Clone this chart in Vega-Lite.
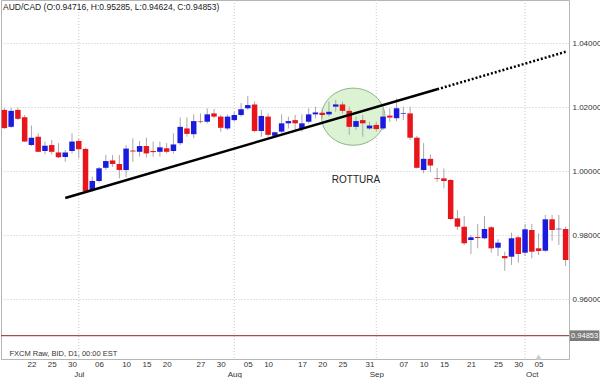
{
  "$schema": "https://vega.github.io/schema/vega-lite/v6.json",
  "width": 568,
  "height": 359,
  "autosize": {"type": "none"},
  "padding": {"left": 1, "top": 0, "right": 31, "bottom": 19},
  "background": "white",
  "title": {"text": "AUD/CAD (O:0.94716, H:0.95285, L:0.94624, C:0.94853)", "anchor": "start", "frame": "group", "orient": "top", "offset": -12, "dx": 2, "fontSize": 8.5, "fontWeight": "normal", "color": "#222", "font": "Liberation Sans"},
  "config": {
    "font": "Liberation Sans",
    "view": {"stroke": "#b5b5b5", "strokeWidth": 1},
    "axisX": {"grid": false, "ticks": false, "domain": false, "labelFontSize": 8, "labelColor": "#333", "labelAngle": 0, "labelPadding": 1, "labelOverlap": false, "labelLineHeight": 10, "labelFont": "Liberation Sans"},
    "axisY": {"grid": true, "gridDash": [1, 2], "gridColor": "#c8c8c8", "ticks": false, "domain": false, "labelFontSize": 8, "labelColor": "#333", "labelPadding": 3, "labelFont": "Liberation Sans"}
  },
  "datasets": {
    "candles": [
      {"d":"2015-06-16","o":1.0191,"h":1.0197,"l":1.0131,"c":1.0134},
      {"d":"2015-06-17","o":1.0138,"h":1.0198,"l":1.0135,"c":1.0188},
      {"d":"2015-06-18","o":1.0191,"h":1.0198,"l":1.0159,"c":1.0163},
      {"d":"2015-06-19","o":1.0168,"h":1.0175,"l":1.0091,"c":1.0092},
      {"d":"2015-06-22","o":1.0081,"h":1.0142,"l":1.0078,"c":1.0104},
      {"d":"2015-06-23","o":1.0107,"h":1.0118,"l":1.0059,"c":1.0060},
      {"d":"2015-06-24","o":1.00625,"h":1.0092,"l":1.0052,"c":1.0079},
      {"d":"2015-06-25","o":1.0081,"h":1.0097,"l":1.0052,"c":1.0060},
      {"d":"2015-06-26","o":1.0058,"h":1.0087,"l":1.0040,"c":1.0043},
      {"d":"2015-06-29","o":1.0044,"h":1.0066,"l":1.0029,"c":1.0058},
      {"d":"2015-06-30","o":1.00625,"h":1.0118,"l":1.0055,"c":1.0092},
      {"d":"2015-07-01","o":1.0094,"h":1.0102,"l":1.0040,"c":1.0068},
      {"d":"2015-07-02","o":1.0069,"h":1.0073,"l":0.99353,"c":0.99375},
      {"d":"2015-07-03","o":0.99406,"h":0.99822,"l":0.99353,"c":0.99688},
      {"d":"2015-07-06","o":0.99688,"h":1.0013,"l":0.99647,"c":1.00084},
      {"d":"2015-07-07","o":1.0010,"h":1.0050,"l":1.0003,"c":1.0031},
      {"d":"2015-07-08","o":1.0033,"h":1.0050,"l":1.0013,"c":1.0022},
      {"d":"2015-07-09","o":1.0022,"h":1.0050,"l":0.9977,"c":1.0003},
      {"d":"2015-07-10","o":1.0003,"h":1.0081,"l":0.9980,"c":1.0070},
      {"d":"2015-07-13","o":1.0064,"h":1.0102,"l":1.0029,"c":1.0061},
      {"d":"2015-07-14","o":1.0060,"h":1.0094,"l":1.0045,"c":1.0078},
      {"d":"2015-07-15","o":1.0078,"h":1.0104,"l":1.0042,"c":1.0055},
      {"d":"2015-07-16","o":1.00625,"h":1.0092,"l":1.0045,"c":1.0059},
      {"d":"2015-07-17","o":1.0060,"h":1.0092,"l":1.0045,"c":1.0074},
      {"d":"2015-07-20","o":1.0071,"h":1.0087,"l":1.0055,"c":1.0060},
      {"d":"2015-07-21","o":1.00625,"h":1.0118,"l":1.0055,"c":1.0083},
      {"d":"2015-07-22","o":1.0087,"h":1.0167,"l":1.0081,"c":1.0138},
      {"d":"2015-07-23","o":1.0133,"h":1.0167,"l":1.0107,"c":1.0116},
      {"d":"2015-07-24","o":1.0115,"h":1.0177,"l":1.0102,"c":1.0156},
      {"d":"2015-07-27","o":1.0155,"h":1.0180,"l":1.0149,"c":1.0153},
      {"d":"2015-07-28","o":1.0154,"h":1.0196,"l":1.0149,"c":1.0177},
      {"d":"2015-07-29","o":1.0180,"h":1.0194,"l":1.0165,"c":1.0170},
      {"d":"2015-07-30","o":1.0170,"h":1.0175,"l":1.0123,"c":1.0135},
      {"d":"2015-07-31","o":1.0133,"h":1.0177,"l":1.0128,"c":1.0170},
      {"d":"2015-08-03","o":1.0159,"h":1.0185,"l":1.0154,"c":1.0175},
      {"d":"2015-08-04","o":1.0175,"h":1.0212,"l":1.0170,"c":1.0193},
      {"d":"2015-08-05","o":1.0196,"h":1.0235,"l":1.0191,"c":1.0206},
      {"d":"2015-08-06","o":1.0208,"h":1.0217,"l":1.0121,"c":1.0125},
      {"d":"2015-08-07","o":1.0125,"h":1.0191,"l":1.0107,"c":1.0172},
      {"d":"2015-08-10","o":1.0170,"h":1.0180,"l":1.0107,"c":1.0113},
      {"d":"2015-08-11","o":1.0110,"h":1.0123,"l":1.0107,"c":1.0121},
      {"d":"2015-08-12","o":1.0123,"h":1.0177,"l":1.0118,"c":1.0149},
      {"d":"2015-08-13","o":1.0149,"h":1.0170,"l":1.0133,"c":1.0156},
      {"d":"2015-08-14","o":1.0159,"h":1.0175,"l":1.0128,"c":1.0149},
      {"d":"2015-08-17","o":1.0133,"h":1.0177,"l":1.0123,"c":1.0149},
      {"d":"2015-08-18","o":1.0154,"h":1.0196,"l":1.0149,"c":1.0177},
      {"d":"2015-08-19","o":1.0177,"h":1.0201,"l":1.0165,"c":1.0183},
      {"d":"2015-08-20","o":1.0182,"h":1.0196,"l":1.0165,"c":1.0175},
      {"d":"2015-08-21","o":1.0177,"h":1.0217,"l":1.0170,"c":1.0185},
      {"d":"2015-08-24","o":1.0201,"h":1.0222,"l":1.0185,"c":1.0208},
      {"d":"2015-08-25","o":1.0208,"h":1.0217,"l":1.0180,"c":1.0188},
      {"d":"2015-08-26","o":1.0188,"h":1.0201,"l":1.0113,"c":1.0138},
      {"d":"2015-08-27","o":1.0138,"h":1.0170,"l":1.0128,"c":1.0156},
      {"d":"2015-08-28","o":1.0159,"h":1.0175,"l":1.0107,"c":1.0149},
      {"d":"2015-08-31","o":1.0133,"h":1.0154,"l":1.0128,"c":1.0142},
      {"d":"2015-09-01","o":1.0144,"h":1.0154,"l":1.0123,"c":1.0131},
      {"d":"2015-09-02","o":1.0133,"h":1.0196,"l":1.0128,"c":1.0170},
      {"d":"2015-09-03","o":1.0173,"h":1.0196,"l":1.0154,"c":1.0167},
      {"d":"2015-09-04","o":1.0165,"h":1.0227,"l":1.0156,"c":1.0196},
      {"d":"2015-09-07","o":1.0179,"h":1.0201,"l":1.0159,"c":1.0181},
      {"d":"2015-09-08","o":1.0180,"h":1.0201,"l":1.0097,"c":1.0104},
      {"d":"2015-09-09","o":1.0104,"h":1.0110,"l":1.0008,"c":1.0010},
      {"d":"2015-09-10","o":1.0003,"h":1.0087,"l":0.9993,"c":1.0038},
      {"d":"2015-09-11","o":1.0038,"h":1.0052,"l":0.9996,"c":1.0017},
      {"d":"2015-09-14","o":0.99781,"h":1.0010,"l":0.99666,"c":0.9976},
      {"d":"2015-09-15","o":0.9977,"h":1.0008,"l":0.9946,"c":0.99688},
      {"d":"2015-09-16","o":0.99719,"h":0.9975,"l":0.98469,"c":0.9850},
      {"d":"2015-09-17","o":0.9852,"h":0.9878,"l":0.98156,"c":0.9826},
      {"d":"2015-09-18","o":0.98259,"h":0.98594,"l":0.97688,"c":0.97741},
      {"d":"2015-09-21","o":0.97844,"h":0.9800,"l":0.97406,"c":0.97928},
      {"d":"2015-09-22","o":0.97938,"h":0.98344,"l":0.97584,"c":0.97906},
      {"d":"2015-09-23","o":0.97897,"h":0.98594,"l":0.97866,"c":0.98188},
      {"d":"2015-09-24","o":0.98241,"h":0.98281,"l":0.97447,"c":0.97584},
      {"d":"2015-09-25","o":0.97603,"h":0.97866,"l":0.97344,"c":0.97759},
      {"d":"2015-09-28","o":0.97344,"h":0.97478,"l":0.96884,"c":0.97272},
      {"d":"2015-09-29","o":0.97322,"h":0.98072,"l":0.97063,"c":0.97897},
      {"d":"2015-09-30","o":0.97928,"h":0.97969,"l":0.97134,"c":0.97406},
      {"d":"2015-10-01","o":0.97447,"h":0.98344,"l":0.97344,"c":0.98178},
      {"d":"2015-10-02","o":0.98156,"h":0.98344,"l":0.97272,"c":0.97478},
      {"d":"2015-10-05","o":0.97584,"h":0.98053,"l":0.97375,"c":0.9750},
      {"d":"2015-10-06","o":0.97509,"h":0.98625,"l":0.97478,"c":0.98491},
      {"d":"2015-10-07","o":0.98491,"h":0.98625,"l":0.97822,"c":0.98156},
      {"d":"2015-10-08","o":0.98178,"h":0.98625,"l":0.97688,"c":0.98197},
      {"d":"2015-10-09","o":0.98188,"h":0.98259,"l":0.97031,"c":0.97219}
    ],
    "months": [{"d":"2015-07-01"},{"d":"2015-08-03"},{"d":"2015-09-01"},{"d":"2015-10-01"}],
    "trend": [
      {"d":"2015-06-29","v":0.99158,"s":"solid"},
      {"d":"2015-09-14","v":1.02553,"s":"solid"},
      {"d":"2015-09-14","v":1.02553,"s":"dot"},
      {"d":"2015-10-09","v":1.03725,"s":"dot"}
    ],
    "circle": [{"d":"2015-08-26","v":1.01697}],
    "note": [{"d":"2015-08-27","v":0.99719,"t":"ROTTURA"}],
    "source": [{"d":"2015-06-16","v":0.94281,"t":"FXCM Raw, BID, D1, 00:00 EST"}],
    "price": [{"d":"2015-10-09","p":0.94853,"t":"0.94853"}],
    "marker": [{"d":"2015-10-05","v":0.94188}]
  },
  "layer": [
    {
      "data": {"name": "months"},
      "mark": {"type": "rule", "color": "#c8c8c8", "strokeDash": [1, 2], "strokeWidth": 1},
      "encoding": {
        "x": {"field": "d", "type": "ordinal", "title": null, "scale": {"type": "point", "padding": 0.5},
          "axis": {"values": ["2015-06-22","2015-06-25","2015-06-30","2015-07-01","2015-07-06","2015-07-10","2015-07-15","2015-07-20","2015-07-27","2015-07-30","2015-08-03","2015-08-05","2015-08-10","2015-08-17","2015-08-20","2015-08-25","2015-08-31","2015-09-01","2015-09-07","2015-09-10","2015-09-15","2015-09-21","2015-09-25","2015-09-30","2015-10-02","2015-10-05"],
            "labelExpr": "datum.value == '2015-07-01' ? ['', 'Jul'] : datum.value == '2015-08-03' ? ['', 'Aug'] : datum.value == '2015-09-01' ? ['', 'Sep'] : datum.value == '2015-10-02' ? ['', 'Oct'] : substring(datum.value, 8, 10)"}}
      }
    },
    {
      "data": {"name": "circle"},
      "mark": {"type": "point", "shape": "M -1 0 A 1 0.9 0 1 0 1 0 A 1 0.9 0 1 0 -1 0 Z", "size": 4020, "filled": true, "fill": "#dcf3d3", "fillOpacity": 1, "stroke": "#8fb08a", "strokeWidth": 1, "xOffset": 4},
      "encoding": {
        "x": {"field": "d", "type": "ordinal", "title": null},
        "y": {"field": "v", "type": "quantitative", "title": null}
      }
    },
    {
      "data": {"name": "candles"},
      "mark": {"type": "rule", "color": "#a8a8a8", "strokeWidth": 1},
      "encoding": {
        "x": {"field": "d", "type": "ordinal", "title": null},
        "y": {"field": "l", "type": "quantitative", "title": null, "scale": {"domain": [0.94125, 1.0534375], "zero": false, "nice": false},
          "axis": {"orient": "right", "values": [0.96, 0.98, 1.0, 1.02, 1.04], "format": ".5f"}},
        "y2": {"field": "h"}
      }
    },
    {
      "data": {"name": "candles"},
      "mark": {"type": "bar", "size": 5.5},
      "encoding": {
        "x": {"field": "d", "type": "ordinal", "title": null},
        "y": {"field": "o", "type": "quantitative", "title": null},
        "y2": {"field": "c"},
        "color": {"condition": {"test": "datum.c < datum.o", "value": "#e8151b"}, "value": "#1b1be0"}
      }
    },
    {
      "data": {"name": "trend"},
      "transform": [{"filter": "datum.s == 'solid'"}],
      "mark": {"type": "line", "color": "#000", "strokeWidth": 2.5},
      "encoding": {
        "x": {"field": "d", "type": "ordinal", "title": null},
        "y": {"field": "v", "type": "quantitative", "title": null}
      }
    },
    {
      "data": {"name": "trend"},
      "transform": [{"filter": "datum.s == 'dot'"}],
      "mark": {"type": "line", "color": "#000", "strokeWidth": 2.5, "strokeDash": [2, 2]},
      "encoding": {
        "x": {"field": "d", "type": "ordinal", "title": null},
        "y": {"field": "v", "type": "quantitative", "title": null}
      }
    },
    {
      "data": {"name": "price"},
      "mark": {"type": "rule", "color": "#8e2424", "strokeWidth": 1},
      "encoding": {
        "y": {"field": "p", "type": "quantitative", "title": null}
      }
    },
    {
      "data": {"name": "price"},
      "mark": {"type": "point", "shape": "M -1 -0.36 L 1 -0.36 L 1 0.36 L -1 0.36 Z", "size": 870, "filled": true, "fill": "#7d7d7d", "fillOpacity": 1, "strokeWidth": 0, "xOffset": 19, "clip": false},
      "encoding": {
        "x": {"field": "d", "type": "ordinal", "title": null},
        "y": {"field": "p", "type": "quantitative", "title": null}
      }
    },
    {
      "data": {"name": "price"},
      "mark": {"type": "text", "color": "white", "fontSize": 7.5, "align": "center", "baseline": "middle", "xOffset": 19},
      "encoding": {
        "x": {"field": "d", "type": "ordinal", "title": null},
        "y": {"field": "p", "type": "quantitative", "title": null},
        "text": {"field": "t"}
      }
    },
    {
      "data": {"name": "note"},
      "mark": {"type": "text", "color": "#222", "fontSize": 10, "align": "center", "baseline": "middle"},
      "encoding": {
        "x": {"field": "d", "type": "ordinal", "title": null},
        "y": {"field": "v", "type": "quantitative", "title": null},
        "text": {"field": "t"}
      }
    },
    {
      "data": {"name": "source"},
      "mark": {"type": "text", "color": "#333", "fontSize": 7.5, "align": "left", "baseline": "middle", "dx": 5},
      "encoding": {
        "x": {"field": "d", "type": "ordinal", "title": null},
        "y": {"field": "v", "type": "quantitative", "title": null},
        "text": {"field": "t"}
      }
    },
    {
      "data": {"name": "marker"},
      "mark": {"type": "point", "shape": "triangle-up", "size": 40, "filled": true, "fill": "#cccccc", "fillOpacity": 1, "strokeWidth": 0},
      "encoding": {
        "x": {"field": "d", "type": "ordinal", "title": null},
        "y": {"field": "v", "type": "quantitative", "title": null}
      }
    }
  ]
}
